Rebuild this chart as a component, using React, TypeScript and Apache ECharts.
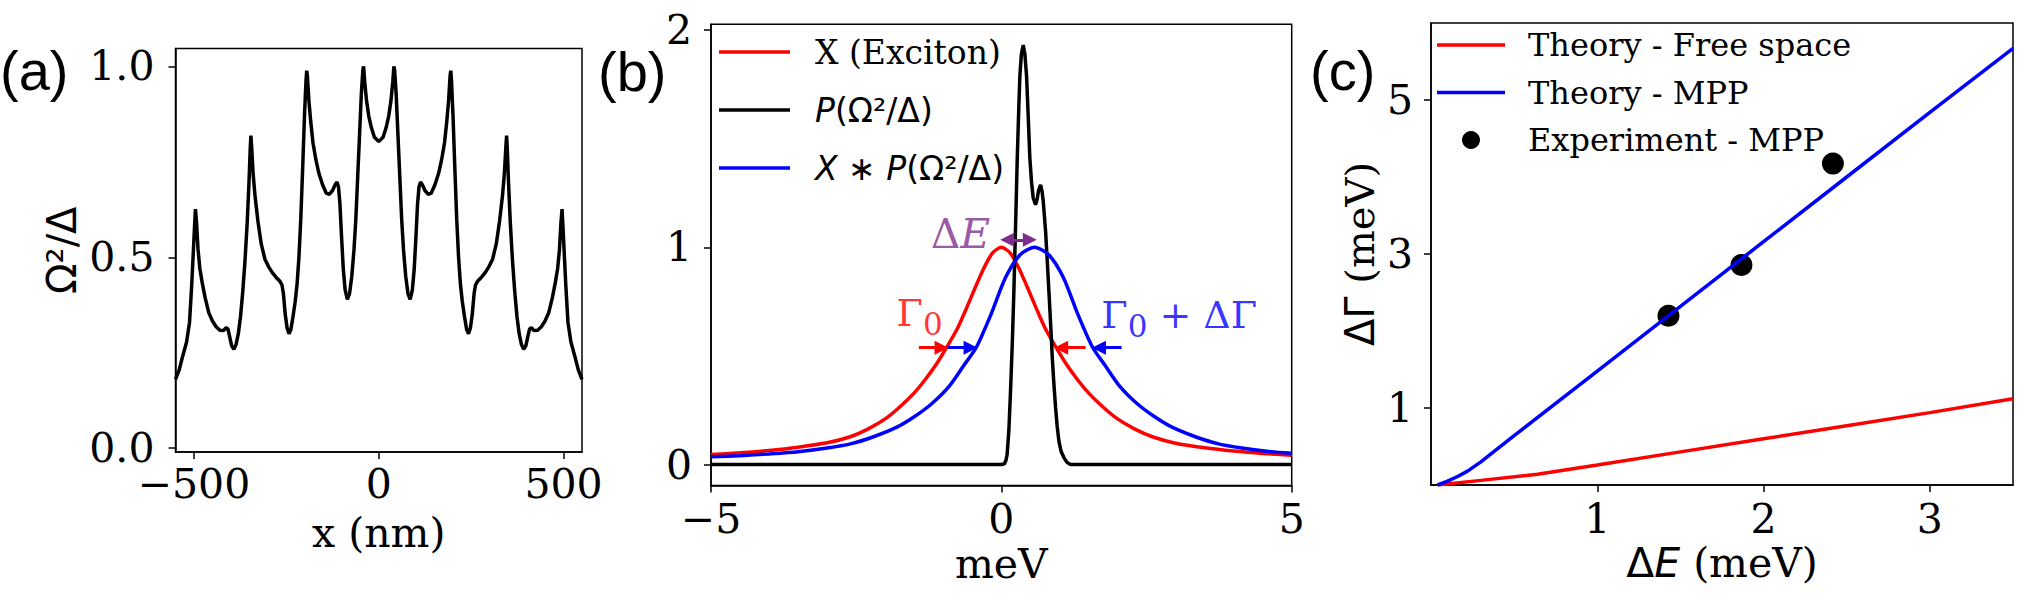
import React, { useEffect, useRef } from "react";
import * as echarts from "echarts";

// ---------- Panel (a): Omega^2/Delta vs x (nm) ----------
const aX = [
  -550, -540, -530, -520, -512, -506, -501, -498, -496, -493, -489, -484, -478, -470, -460, -450, -440, -430, -420, -413,
  -408, -403, -398, -392, -386, -380, -374, -368, -362, -356, -351, -348, -346, -344, -340, -335, -327, -318, -308, -298,
  -288, -278, -268, -262, -258, -253, -248, -243, -238, -232, -226, -221, -216, -211, -206, -201, -197, -195, -193, -189,
  -184, -178, -170, -162, -152, -142, -134, -125, -118, -113, -109, -105, -101, -96, -91, -85, -79, -73, -67, -62,
  -57, -52, -47, -43, -41, -38, -33, -27, -20, -12, 0,
  12, 20, 27, 33, 38, 41, 43, 47, 52, 57, 62, 67, 73, 79, 85, 91, 96, 101, 105, 109,
  113, 118, 125, 134, 142, 152, 162, 170, 178, 184, 189, 193, 195, 197, 201, 206, 211, 216, 221, 226,
  232, 238, 243, 248, 253, 258, 262, 268, 278, 288, 298, 308, 318, 327, 335, 340, 344, 346, 348, 351,
  356, 362, 368, 374, 380, 386, 392, 398, 403, 408, 413, 420, 430, 440, 450, 460, 470, 478, 484, 489,
  493, 496, 498, 501, 506, 512, 520, 530, 540, 550,
];
const aY = [
  0.18, 0.205, 0.243, 0.278, 0.33, 0.43, 0.53, 0.59, 0.626, 0.59, 0.52, 0.47, 0.435, 0.395, 0.355, 0.333, 0.318, 0.309, 0.308, 0.316,
  0.312, 0.29, 0.268, 0.259, 0.272, 0.3, 0.345, 0.41, 0.49, 0.59, 0.7, 0.78, 0.819, 0.79, 0.72, 0.663, 0.595, 0.535, 0.495, 0.475,
  0.46, 0.448, 0.438, 0.428, 0.405, 0.35, 0.315, 0.3, 0.31, 0.345, 0.385, 0.43, 0.5, 0.6, 0.73, 0.87, 0.96, 0.989, 0.975, 0.91,
  0.855, 0.8, 0.755, 0.72, 0.69, 0.668, 0.665, 0.675, 0.69, 0.697, 0.685, 0.64, 0.56, 0.47, 0.415, 0.39, 0.405, 0.45, 0.52, 0.6,
  0.71, 0.82, 0.93, 0.99, 1.0, 0.96, 0.91, 0.87, 0.84, 0.815, 0.803,
  0.815, 0.84, 0.87, 0.91, 0.96, 1.0, 0.99, 0.93, 0.82, 0.71, 0.6, 0.52, 0.45, 0.405, 0.39, 0.415, 0.47, 0.56, 0.64, 0.685,
  0.697, 0.69, 0.675, 0.665, 0.668, 0.69, 0.72, 0.755, 0.8, 0.855, 0.91, 0.975, 0.989, 0.96, 0.87, 0.73, 0.6, 0.5, 0.43, 0.385,
  0.345, 0.31, 0.3, 0.315, 0.35, 0.405, 0.428, 0.438, 0.448, 0.46, 0.475, 0.495, 0.535, 0.595, 0.663, 0.72, 0.79, 0.819, 0.78, 0.7,
  0.59, 0.49, 0.41, 0.345, 0.3, 0.272, 0.259, 0.268, 0.29, 0.312, 0.316, 0.308, 0.309, 0.318, 0.333, 0.355, 0.395, 0.435, 0.47, 0.52,
  0.59, 0.626, 0.59, 0.53, 0.43, 0.33, 0.278, 0.243, 0.205, 0.18,
];
const aXTicks = [-500, 0, 500];
const aYTicks = [0, 0.5, 1.0];

// ---------- Panel (b): spectra vs meV ----------
const bRedX = [-5, -4.5, -4, -3.5, -3, -2.6, -2.3, -2.0, -1.75, -1.5, -1.3, -1.1, -0.93, -0.75, -0.6, -0.45, -0.3, -0.15, 0, 0.15, 0.3, 0.45, 0.6, 0.75, 0.93, 1.1, 1.3, 1.5, 1.75, 2.0, 2.3, 2.6, 3.0, 3.5, 4.0, 4.5, 5];
const bRedY = [0.046, 0.054, 0.065, 0.08, 0.1, 0.128, 0.163, 0.21, 0.265, 0.33, 0.395, 0.47, 0.545, 0.63, 0.72, 0.815, 0.905, 0.975, 1.0, 0.975, 0.905, 0.815, 0.72, 0.63, 0.545, 0.47, 0.395, 0.33, 0.265, 0.21, 0.163, 0.128, 0.098, 0.077, 0.062, 0.051, 0.043];
const bBlackX = [-5, 0, 0.05, 0.08, 0.1, 0.13, 0.158, 0.19, 0.216, 0.245, 0.274, 0.3, 0.319, 0.345, 0.377, 0.405, 0.434, 0.46, 0.491, 0.52, 0.549, 0.589, 0.615, 0.64, 0.675, 0.7, 0.722, 0.762, 0.79, 0.819, 0.85, 0.877, 0.905, 0.934, 0.96, 0.991, 1.03, 1.077, 1.13, 1.19, 5];
const bBlackY = [0, 0, 0.003, 0.02, 0.047, 0.16, 0.338, 0.57, 0.8, 1.1, 1.41, 1.64, 1.79, 1.89, 1.931, 1.89, 1.79, 1.62, 1.41, 1.3, 1.227, 1.196, 1.22, 1.26, 1.288, 1.26, 1.211, 1.074, 0.94, 0.798, 0.64, 0.492, 0.37, 0.262, 0.18, 0.108, 0.06, 0.032, 0.01, 0, 0];
const bBlueX = [-5, -4.5, -4, -3.5, -3, -2.6, -2.2, -1.8, -1.5, -1.2, -0.9, -0.65, -0.43, -0.18, 0.07, 0.32, 0.57, 0.82, 1.07, 1.32, 1.57, 1.79, 2.04, 2.34, 2.64, 2.94, 3.34, 3.74, 4.14, 4.64, 5];
const bBlueY = [0.036, 0.041, 0.049, 0.059, 0.076, 0.095, 0.128, 0.172, 0.22, 0.28, 0.36, 0.455, 0.54, 0.69, 0.86, 0.965, 1.0, 0.965, 0.86, 0.69, 0.54, 0.455, 0.36, 0.28, 0.22, 0.172, 0.128, 0.095, 0.076, 0.059, 0.052];
const bXTicks = [-5, 0, 5];
const bYTicks = [0, 1, 2];
// arrows: [x0, y0, x1, y1]
const bArrowsRed = [[-1.42, 0.538, -1.03, 0.538], [1.45, 0.538, 1.03, 0.538]];
const bArrowsBlue = [[-0.93, 0.538, -0.53, 0.538], [2.07, 0.538, 1.68, 0.538]];
const bArrowDE = [0.1, 1.035, 0.49, 1.035];
// annotation anchor points [x, y]
const bLabelDE = [-0.19, 1.063];
const bLabelG0 = [-1.01, 0.70];
const bLabelG0dG = [1.72, 0.69];

// ---------- Panel (c): dGamma vs dE ----------
const cRedX = [0.04, 0.3, 0.64, 1.0, 1.5, 2.0, 2.5, 3.0, 3.5];
const cRedY = [0, 0.06, 0.14, 0.26, 0.43, 0.6, 0.77, 0.94, 1.12];
const cBlueX = [0.04, 0.1, 0.16, 0.22, 0.3, 0.5, 1.0, 1.5, 2.0, 2.5, 3.0, 3.5];
const cBlueY = [0, 0.05, 0.11, 0.18, 0.3, 0.64, 1.48, 2.32, 3.16, 4.0, 4.84, 5.67];
const cExpX = [1.428, 1.867, 2.417];
const cExpY = [2.197, 2.857, 4.174];
const cXTicks = [1, 2, 3];
const cYTicks = [1, 3, 5];

const SERIF = "DejaVu Serif";
const SANS = "DejaVu Sans";
const LINE_ICON = "path://M0,0H70V3.5H0Z";
const zip = (xs: number[], ys: number[]) => xs.map((x, i) => [x, ys[i]]);
const minusFmt = (v: number) => (v < 0 ? "\u2212" + Math.abs(v) : String(v));

const tickLabel = (vals: number[], margin: number, fmt: (v: number) => string) => ({
  customValues: vals,
  formatter: fmt,
  fontFamily: SERIF,
  fontSize: 41,
  color: "#000",
  margin,
});
const tick = (vals: number[]) => ({
  customValues: vals,
  length: 7,
  lineStyle: { color: "#000", width: 1.5 },
});
const axLine = { show: true, onZero: false, lineStyle: { color: "#000", width: 1.5 } };

function buildOption() {
  const gridBase = { show: true, borderColor: "#000", borderWidth: 1.5, backgroundColor: "transparent", containLabel: false, outerBoundsMode: "none" };
  const mk = (a: number[], color: string, sym: string[]) => [
    { coord: [a[0], a[1]], symbol: sym[0], lineStyle: { color, width: 3, type: "solid" }, itemStyle: { color } },
    { coord: [a[2], a[3]], symbol: sym[1] },
  ];
  return {
    animation: false,
    backgroundColor: "#fff",
    grid: [
      { ...gridBase, left: 175.5, top: 48.5, width: 406.5, height: 403.5 },
      { ...gridBase, left: 711, top: 24.3, width: 580.7, height: 461.2 },
      { ...gridBase, left: 1431, top: 23, width: 582, height: 462 },
    ],
    xAxis: [
      {
        type: "value", gridIndex: 0, min: -550, max: 550, splitLine: { show: false }, axisLine: axLine,
        axisTick: tick(aXTicks), axisLabel: tickLabel(aXTicks, 11, minusFmt),
        name: "x (nm)", nameLocation: "middle", nameGap: 60, nameMoveOverlap: false,
        nameTextStyle: { fontFamily: SERIF, fontSize: 41, color: "#000" },
      },
      {
        type: "value", gridIndex: 1, min: -5, max: 5, splitLine: { show: false }, axisLine: axLine,
        axisTick: tick(bXTicks), axisLabel: tickLabel(bXTicks, 13, minusFmt),
        name: "meV", nameLocation: "middle", nameGap: 58, nameMoveOverlap: false,
        nameTextStyle: { fontFamily: SERIF, fontSize: 41, color: "#000" },
      },
      {
        type: "value", gridIndex: 2, min: 0, max: 3.5, splitLine: { show: false }, axisLine: axLine,
        axisTick: tick(cXTicks), axisLabel: tickLabel(cXTicks, 13, (v: number) => String(v)),
        name: "{a|\u0394}{b|E}{c| (meV)}", nameLocation: "middle", nameGap: 57, nameMoveOverlap: false,
        nameTextStyle: {
          fontFamily: SERIF, fontSize: 41, color: "#000",
          rich: {
            a: { fontFamily: SANS, fontSize: 41, color: "#000" },
            b: { fontFamily: SANS, fontStyle: "italic", fontSize: 41, color: "#000" },
            c: { fontFamily: SERIF, fontSize: 41, color: "#000" },
          },
        },
      },
    ],
    yAxis: [
      {
        type: "value", gridIndex: 0, min: -0.01, max: 1.047, splitLine: { show: false }, axisLine: axLine,
        axisTick: tick(aYTicks), axisLabel: tickLabel(aYTicks, 21, (v: number) => v.toFixed(1)),
        name: "\u03A9\u00B2/\u0394", nameLocation: "middle", nameGap: 94, nameMoveOverlap: false,
        nameTextStyle: { fontFamily: SANS, fontSize: 40, color: "#000" },
      },
      {
        type: "value", gridIndex: 1, min: -0.0965, max: 2.027, splitLine: { show: false }, axisLine: axLine,
        axisTick: tick(bYTicks), axisLabel: tickLabel(bYTicks, 19, (v: number) => String(v)),
      },
      {
        type: "value", gridIndex: 2, min: 0, max: 6, splitLine: { show: false }, axisLine: axLine,
        axisTick: tick(cYTicks), axisLabel: tickLabel(cYTicks, 18, (v: number) => String(v)),
        name: "{a|\u0394\u0393}{c| (meV)}", nameLocation: "middle", nameGap: 51, nameMoveOverlap: false,
        nameTextStyle: {
          fontFamily: SERIF, fontSize: 40, color: "#000",
          rich: {
            a: { fontFamily: SANS, fontSize: 40, color: "#000" },
            c: { fontFamily: SERIF, fontSize: 40, color: "#000" },
          },
        },
      },
    ],
    legend: [
      {
        orient: "vertical", left: 719, top: 32, padding: 0, itemWidth: 71, itemHeight: 20, itemGap: 18,
        icon: LINE_ICON,
        data: ["X (Exciton)", "P(\u03A9\u00B2/\u0394)", "X * P(\u03A9\u00B2/\u0394)"],
        formatter: (name: string) => {
          if (name === "X (Exciton)") return "{r|X (Exciton)}";
          if (name.startsWith("P")) return "{i|P}{s|(\u03A9\u00B2/\u0394)}";
          return "{i|X}{s| \u2217 }{i|P}{s|(\u03A9\u00B2/\u0394)}";
        },
        textStyle: {
          fontFamily: SERIF, fontSize: 33, lineHeight: 40, color: "#000", padding: [0, 0, 0, 20],
          rich: {
            r: { fontFamily: SERIF, fontSize: 33, lineHeight: 40, color: "#000" },
            i: { fontFamily: SANS, fontStyle: "italic", fontSize: 33, lineHeight: 40, color: "#000" },
            s: { fontFamily: SANS, fontSize: 33, lineHeight: 40, color: "#000" },
          },
        },
        selectedMode: false,
      },
      {
        orient: "vertical", left: 1437, top: 27, padding: 0, itemWidth: 68, itemHeight: 18, itemGap: 11.5,
        data: [
          { name: "Theory - Free space", icon: LINE_ICON },
          { name: "Theory - MPP", icon: LINE_ICON },
          { name: "Experiment - MPP", icon: "circle" },
        ],
        textStyle: { fontFamily: SERIF, fontSize: 32, lineHeight: 36, color: "#000", padding: [0, 0, 0, 18] },
        selectedMode: false,
      },
    ],
    graphic: [
      { type: "text", x: 0, y: 70, style: { text: "(a)", fontFamily: "Liberation Sans", fontSize: 56, fill: "#000", align: "left", verticalAlign: "middle" } },
      { type: "text", x: 598, y: 71, style: { text: "(b)", fontFamily: "Liberation Sans", fontSize: 56, fill: "#000", align: "left", verticalAlign: "middle" } },
      { type: "text", x: 1310, y: 70, style: { text: "(c)", fontFamily: "Liberation Sans", fontSize: 56, fill: "#000", align: "left", verticalAlign: "middle" } },
    ],
    series: [
      {
        name: "a", type: "line", xAxisIndex: 0, yAxisIndex: 0, data: zip(aX, aY), symbol: "none",
        lineStyle: { color: "#000", width: 3.5 }, silent: true,
      },
      {
        name: "X (Exciton)", type: "line", xAxisIndex: 1, yAxisIndex: 1, data: zip(bRedX, bRedY), symbol: "none", smooth: 0.25,
        color: "#ff0000", lineStyle: { color: "#ff0000", width: 3.5 }, silent: true,
      },
      {
        name: "P(\u03A9\u00B2/\u0394)", type: "line", xAxisIndex: 1, yAxisIndex: 1, data: zip(bBlackX, bBlackY), symbol: "none",
        color: "#000", lineStyle: { color: "#000", width: 3.5 }, silent: true,
      },
      {
        name: "X * P(\u03A9\u00B2/\u0394)", type: "line", xAxisIndex: 1, yAxisIndex: 1, data: zip(bBlueX, bBlueY), symbol: "none", smooth: 0.25,
        color: "#0000ff", lineStyle: { color: "#0000ff", width: 3.5 }, silent: true,
        markLine: {
          silent: true, animation: false, symbolSize: 14, label: { show: false },
          data: [
            ...bArrowsRed.map((a) => mk(a, "#ff0000", ["none", "triangle"])),
            ...bArrowsBlue.map((a) => mk(a, "#0000ff", ["none", "triangle"])),
            mk(bArrowDE, "#7d2e8d", ["triangle", "triangle"]),
          ],
        },
      },
      {
        name: "annot", type: "scatter", xAxisIndex: 1, yAxisIndex: 1, symbolSize: 0.1, silent: true,
        itemStyle: { color: "rgba(0,0,0,0)" },
        data: [
          {
            value: bLabelDE,
            label: {
              show: true, position: "left", distance: 0, formatter: "{d|\u0394}{e|E}",
              rich: {
                d: { fontFamily: SERIF, fontSize: 41, color: "#7d2e8d" },
                e: { fontFamily: SERIF, fontStyle: "italic", fontSize: 41, color: "#7d2e8d" },
              },
            },
          },
          {
            value: bLabelG0,
            label: {
              show: true, position: "left", distance: 0, formatter: "{g|\u0393}{s|0}",
              rich: {
                g: { fontFamily: SERIF, fontSize: 38, color: "#ff0000" },
                s: { fontFamily: SERIF, fontSize: 31, color: "#ff0000", padding: [22, 0, 0, 0] },
              },
            },
          },
          {
            value: bLabelG0dG,
            label: {
              show: true, position: "right", distance: 0, formatter: "{g|\u0393}{s|0}{g| + \u0394\u0393}",
              rich: {
                g: { fontFamily: SERIF, fontSize: 38, color: "#0000ff" },
                s: { fontFamily: SERIF, fontSize: 31, color: "#0000ff", padding: [22, 0, 0, 0] },
              },
            },
          },
        ],
      },
      {
        name: "Theory - Free space", type: "line", xAxisIndex: 2, yAxisIndex: 2, data: zip(cRedX, cRedY), symbol: "none",
        color: "#ff0000", lineStyle: { color: "#ff0000", width: 3.5 }, silent: true,
      },
      {
        name: "Theory - MPP", type: "line", xAxisIndex: 2, yAxisIndex: 2, data: zip(cBlueX, cBlueY), symbol: "none",
        color: "#0000ff", lineStyle: { color: "#0000ff", width: 3.5 }, silent: true,
      },
      {
        name: "Experiment - MPP", type: "scatter", xAxisIndex: 2, yAxisIndex: 2, data: zip(cExpX, cExpY), symbol: "circle",
        symbolSize: 22, color: "#000", itemStyle: { color: "#000", opacity: 1 }, silent: true,
      },
    ],
  };
}

export default function App() {
  const ref = useRef<HTMLDivElement>(null);
  useEffect(() => {
    if (!ref.current) return;
    const chart = echarts.init(ref.current, null, { renderer: "svg" });
    chart.setOption(buildOption() as any);
    return () => chart.dispose();
  }, []);
  return (
    <div
      ref={ref}
      style={{ position: "fixed", left: 0, top: 0, width: 2027, height: 605, background: "#fff" }}
    />
  );
}
